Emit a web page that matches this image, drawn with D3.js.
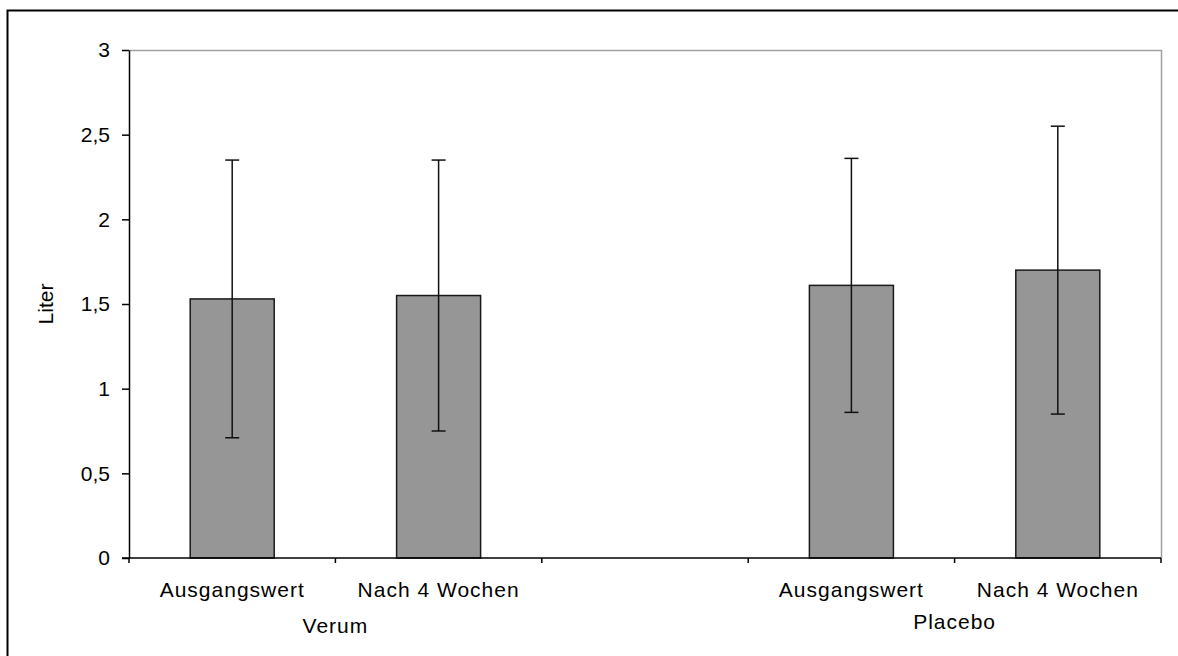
<!DOCTYPE html>
<html><head><meta charset="utf-8">
<script src="https://cdn.jsdelivr.net/npm/d3@7"></script>
<style>body{margin:0;background:#fff}svg{display:block}text{font-family:"Liberation Sans",Arial,sans-serif;fill:#000}</style>
</head><body>
<svg id="c" width="1178" height="656"></svg>
<script>
const categories = ["Ausgangswert","Nach 4 Wochen","Ausgangswert","Nach 4 Wochen"];
const groups = ["Verum","Verum","Placebo","Placebo"];
const groupNames = ["Verum","Placebo"];
const means = [1.53,1.55,1.61,1.70];
const sds = [0.82,0.80,0.75,0.85];
const yTicks = [0,0.5,1,1.5,2,2.5,3];
const yLabel = "Liter";

const svg = d3.select("#c");
const L=129, R=1161, T=50, B=558;
const slots = ["Verum|Ausgangswert","Verum|Nach 4 Wochen","gap","Placebo|Ausgangswert","Placebo|Nach 4 Wochen"];
const x = d3.scaleBand().domain(slots).range([L,R]).padding(0);
const y = d3.scaleLinear().domain([0,3]).range([B,T]);
const data = categories.map((c,i)=>({key:groups[i]+"|"+c,cat:c,mean:means[i],sd:sds[i]}));
const fmt = d=>String(d).replace(".",",");

// outer frame
svg.append("rect").attr("x",7.5).attr("y",10.5).attr("width",1300).attr("height",800)
  .attr("fill","none").attr("stroke","#000").attr("stroke-width",2);

// plot border top/right (gray)
svg.append("path").attr("d",`M${L},${T+0.5}H${R+0.5}V${B}`).attr("fill","none").attr("stroke","#a0a0a0").attr("stroke-width",1.5);

// bars
const bw = x.bandwidth()*0.407;
svg.selectAll("rect.bar").data(data).join("rect").attr("class","bar")
  .attr("x",d=>x(d.key)+x.bandwidth()/2-bw/2).attr("width",bw)
  .attr("y",d=>y(d.mean)).attr("height",d=>y(0)-y(d.mean))
  .attr("fill","#969696").attr("stroke","#1a1a1a").attr("stroke-width",1.5);

// error bars
const eb = svg.selectAll("g.eb").data(data).join("g").attr("class","eb")
  .attr("transform",d=>`translate(${x(d.key)+x.bandwidth()/2},0)`);
eb.append("line").attr("y1",d=>y(d.mean+d.sd)).attr("y2",d=>y(d.mean-d.sd)).attr("stroke","#111").attr("stroke-width",1.5);
eb.append("line").attr("x1",-7).attr("x2",7).attr("y1",d=>y(d.mean+d.sd)).attr("y2",d=>y(d.mean+d.sd)).attr("stroke","#111").attr("stroke-width",1.5);
eb.append("line").attr("x1",-7).attr("x2",7).attr("y1",d=>y(d.mean-d.sd)).attr("y2",d=>y(d.mean-d.sd)).attr("stroke","#111").attr("stroke-width",1.5);

// y axis
const ya = svg.append("g").attr("transform",`translate(${L},0)`)
  .call(d3.axisLeft(y).tickValues(yTicks).tickFormat(fmt).tickSize(7).tickSizeOuter(0).tickPadding(12));
ya.select(".domain").attr("stroke","#000").attr("stroke-width",1.5);
ya.selectAll(".tick line").attr("stroke","#000").attr("stroke-width",1.5);
ya.selectAll(".tick text").attr("font-size",21).attr("font-family","Liberation Sans, Arial").attr("fill","#000");

// x axis
const xa = svg.append("g").attr("transform",`translate(0,${B})`);
xa.append("line").attr("x1",L-7).attr("x2",R).attr("stroke","#000").attr("stroke-width",1.5);
const bounds = slots.map(s=>x(s)).concat([R]);
xa.selectAll("line.t").data(bounds).join("line").attr("class","t")
  .attr("x1",d=>d).attr("x2",d=>d).attr("y1",0).attr("y2",5).attr("stroke","#000").attr("stroke-width",1.5);
xa.selectAll("text.cat").data(data).join("text").attr("class","cat")
  .attr("x",d=>x(d.key)+x.bandwidth()/2).attr("y",39).attr("text-anchor","middle")
  .attr("font-size",21).attr("letter-spacing",1).text(d=>d.cat);

// group labels
const gy = {"Verum":633,"Placebo":629};
groupNames.forEach(g=>{
  const ks = data.filter(d=>d.key.startsWith(g+"|"));
  const cx = d3.mean(ks,d=>x(d.key)+x.bandwidth()/2);
  svg.append("text").attr("x",cx).attr("y",gy[g]).attr("text-anchor","middle")
    .attr("font-size",21).attr("letter-spacing",1).text(g);
});

// y label
svg.append("text").attr("transform",`translate(53,${(T+B)/2}) rotate(-90)`)
  .attr("text-anchor","middle").attr("font-size",21).text(yLabel);
</script>
</body></html>
